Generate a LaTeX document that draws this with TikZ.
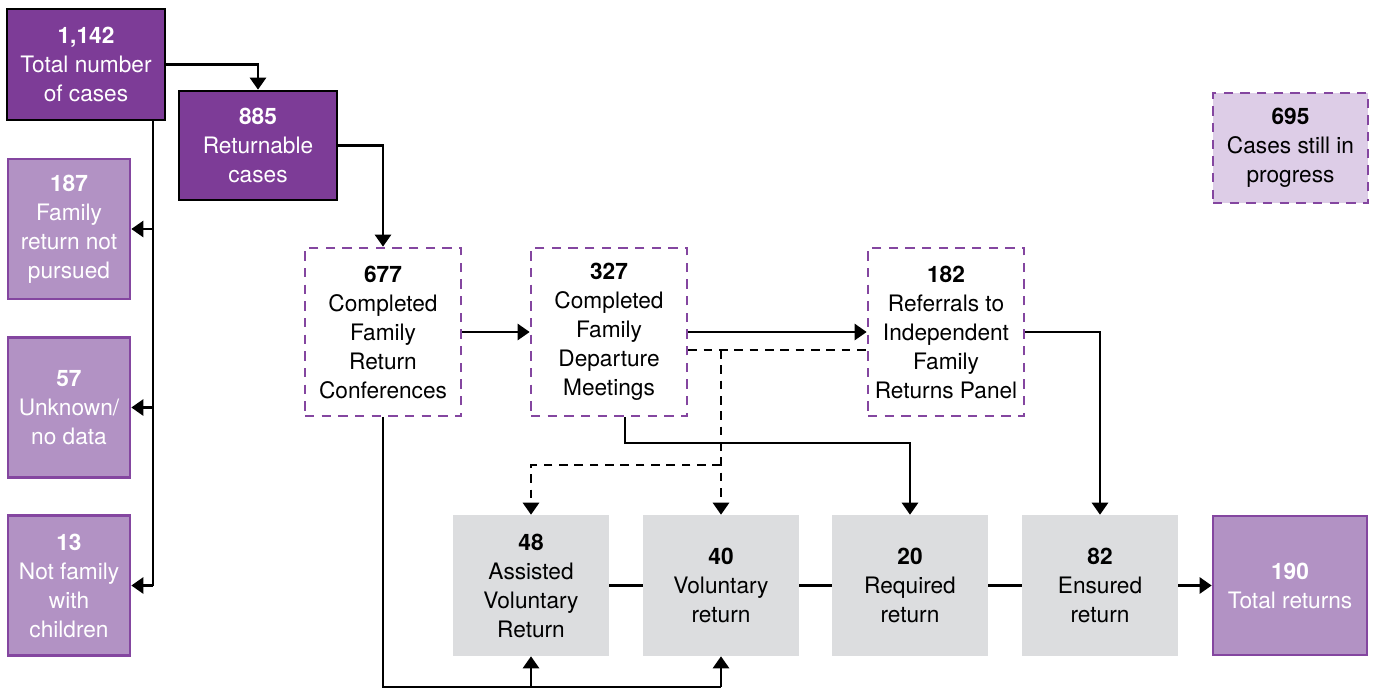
\documentclass[tikz,border=0pt]{standalone}
\usepackage{fontspec}
\setmainfont{TeX Gyre Heros}
\usetikzlibrary{arrows.meta,calc}
\definecolor{dpurple}{HTML}{7D3C97}
\definecolor{lpurple}{HTML}{B292C4}
\definecolor{bpurple}{HTML}{8446A0}
\definecolor{lav}{HTML}{DDCDE7}
\definecolor{lgray}{HTML}{DCDDDF}
\begin{document}
\begin{tikzpicture}[x=0.75pt,y=-0.75pt,
  every node/.style={font=\fontsize{17}{21.75}\selectfont, align=center, inner sep=0pt},
  darkbox/.style={draw=black, line width=2pt, fill=dpurple, text=white, minimum width=118.5pt},
  lightbox/.style={draw=bpurple, line width=2pt, fill=lpurple, text=white},
  dashbox/.style={draw=bpurple, line width=2pt, dash pattern=on 7pt off 5.5pt, fill=white, text=black, minimum width=117pt, minimum height=126pt},
  graybox/.style={fill=lgray, text=black, minimum width=117pt, minimum height=105.75pt},
  conn/.style={line width=2pt, draw=black},
  arr/.style={conn, -{Triangle[width=12pt,length=9pt]}},
  dsh/.style={dash pattern=on 6.5pt off 5pt}
]
\useasboundingbox (0,0) rectangle (1375,690);

% top-left boxes
\node[darkbox, minimum height=83.25pt] (tot) at (86,64.5) {\textbf{1,142}\\Total number\\of cases};
\node[darkbox, minimum height=81.75pt] (ret) at (258,145.5) {\textbf{885}\\Returnable\\cases};

% left column
\node[lightbox, minimum width=91.5pt, minimum height=105pt] (n187) at (69,229) {\textbf{187}\\Family\\return not\\pursued};
\node[lightbox, minimum width=91.5pt, minimum height=105pt] (n57) at (69,407.5) {\textbf{57}\\Unknown/\\no data};
\node[lightbox, minimum width=91.5pt, minimum height=105pt] (n13) at (69,585.5) {\textbf{13}\\Not family\\with\\children};

% dashed boxes
\node[dashbox] (c677) at (383,332) {\textbf{677}\\Completed\\Family\\Return\\Conferences};
\node[dashbox] (c327) at (609,332) {\textbf{327}\\Completed\\Family\\Departure\\Meetings};
\node[dashbox] (c182) at (946,332) {\textbf{182}\\Referrals to\\Independent\\Family\\Returns Panel};
\node[dashbox, fill=lav, minimum width=116.25pt, minimum height=82.5pt] (prog) at (1290.5,148) {\textbf{695}\\Cases still in\\progress};

% bottom row
\node[graybox] (avr) at (531,585.5) {\textbf{48}\\Assisted\\Voluntary\\Return};
\node[graybox] (vol) at (721,585.5) {\textbf{40}\\Voluntary\\return};
\node[graybox] (req) at (910,585.5) {\textbf{20}\\Required\\return};
\node[graybox] (ens) at (1100,585.5) {\textbf{82}\\Ensured\\return};
\node[lightbox, minimum width=115.5pt, minimum height=104.25pt] (tr) at (1290,585.5) {\textbf{190}\\Total returns};

% connectors
\draw[arr] (tot.east) -| (ret.north);
\coordinate (tk) at (153,0);
\draw[conn] (tk |- tot.south) -- (tk |- n13.east);
\draw[arr] (tk |- n187.east) -- (n187.east);
\draw[arr] (tk |- n57.east) -- (n57.east);
\draw[arr] (tk |- n13.east) -- (n13.east);

\draw[arr] (ret.east) -| (c677.north);
\draw[arr] (c677.east) -- (c327.west);
\draw[arr] (c327.east) -- (c182.west);

% dashed
\coordinate (dh) at (0,350);
\coordinate (dm) at (0,465);
\draw[conn,dsh] (c327.east |- dh) -- (c182.west |- dh);
\draw[arr,dsh] (vol.north |- dh) -- (vol.north);
\draw[arr,dsh] (vol.north |- dm) -| (avr.north);

% solid from 327
\coordinate (sx) at (625,443);
\draw[arr] (sx |- c327.south) -- (sx) -| (req.north);
\draw[arr] (c182.east) -| (ens.north);

% bottom loop from 677
\coordinate (bt) at (0,687);
\draw[conn] (c677.south) -- (c677.south |- bt) -- (vol.south |- bt);
\draw[arr] (avr.south |- bt) -- (avr.south);
\draw[arr] (vol.south |- bt) -- (vol.south);

% horizontal links
\draw[conn] (avr.east) -- (vol.west);
\draw[conn] (vol.east) -- (req.west);
\draw[conn] (req.east) -- (ens.west);
\draw[arr] (ens.east) -- (tr.west);
\end{tikzpicture}
\end{document}
